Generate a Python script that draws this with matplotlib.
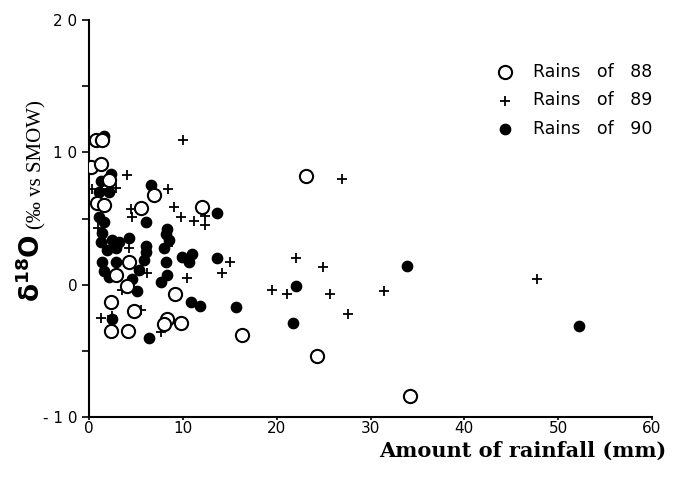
import matplotlib.pyplot as plt

# Rains of 88 (open circles): rainfall (mm), delta 18O
x88 = [0.7, 1.4, 0.2, 1.25, 2.1, 0.85, 1.6, 5.5, 6.9, 12.0, 23.1, 2.9, 4.3,
       4.1, 2.3, 4.8, 9.2, 8.3, 8.0, 9.8, 2.3, 4.2, 16.3, 24.3, 34.2]
y88 = [10.9, 10.9, 8.9, 9.1, 7.9, 6.2, 6.0, 5.8, 6.8, 5.9, 8.2, 0.75, 1.7,
       -0.1, -1.3, -2.0, -0.7, -2.6, -3.0, -2.9, -3.5, -3.5, -3.8, -5.4, -8.4]

# Rains of 89 (plus)
x89 = [10.0, 4.1, 8.4, 27.0, 2.9, 1.4, 9.1, 9.8, 11.2, 12.4, 12.4, 4.5, 4.6,
       4.3, 6.2, 10.4, 1.3, 3.5, 7.7, 8.4, 5.5, 2.5, 15.0, 14.2, 21.1, 19.5,
       22.1, 24.9, 25.7, 31.4, 27.6, 47.7, 0.3, 1.0]
y89 = [10.9, 8.3, 7.2, 8.0, 7.3, 7.2, 5.9, 5.1, 4.8, 4.5, 5.2, 5.7, 5.1,
       2.8, 0.9, 0.5, -2.5, -0.4, -3.6, 2.9, -1.9, -2.4, 1.7, 0.9, -0.7, -0.4,
       2.0, 1.3, -0.7, -0.5, -2.2, 0.4, 7.2, 4.3]

# Rains of 90 (filled dots)
x90 = [1.6, 2.3, 1.3, 1.1, 2.1, 6.6, 1.1, 1.6, 1.4, 1.3, 2.5, 2.9, 4.3, 6.1,
       6.1, 8.3, 8.5, 13.6, 8.0, 3.2, 6.1, 5.9, 5.3, 2.9, 1.4, 2.1, 4.6, 5.1,
       8.2, 8.3, 7.7, 9.9, 11.0, 10.7, 13.6, 10.9, 11.8, 15.7, 2.5, 6.4, 8.2,
       1.9, 21.7, 22.1, 33.9, 52.2, 1.6]
y90 = [11.2, 8.4, 7.8, 7.0, 7.0, 7.5, 5.1, 4.7, 3.9, 3.2, 3.4, 2.8, 3.5, 2.9,
       4.7, 4.2, 3.4, 5.4, 2.8, 3.2, 2.5, 1.9, 1.1, 1.7, 1.7, 0.6, 0.4, -0.5,
       1.7, 0.75, 0.2, 2.1, 2.3, 1.7, 2.0, -1.3, -1.6, -1.7, -2.6, -4.0, 3.8,
       2.6, -2.9, -0.1, 1.4, -3.1, 1.0]

labels = ['Rains   of   88', 'Rains   of   89', 'Rains   of   90']
yticks = [-10, 0, 10, 20]
ytick_labels = ['- 1 0', '0', '1 0', '2 0']
xticks = [0, 10, 20, 30, 40, 50, 60]

W, H = 681, 482


def main():
    fig = plt.figure(figsize=(W / 100, H / 100), dpi=100)
    ax = fig.add_axes([89 / W, 1 - 417 / H, (652 - 89) / W, (417 - 20) / H])

    ax.scatter(x88, y88, s=90, facecolors='white', edgecolors='black',
               linewidths=1.5, label=labels[0], zorder=3)
    ax.scatter(x89, y89, s=60, marker='+', color='black', linewidths=1.3,
               label=labels[1], zorder=2)
    ax.scatter(x90, y90, s=55, color='black', label=labels[2], zorder=2)

    ax.set_xlim(0, 60)
    ax.set_ylim(-10, 20)
    ax.set_xticks(xticks)
    ax.set_xticklabels([str(t) for t in xticks], fontfamily='DejaVu Sans',
                       fontsize=11)
    ax.set_yticks(yticks)
    ax.set_yticklabels(ytick_labels, fontfamily='DejaVu Sans', fontsize=11)
    ax.set_yticks([-5, 5, 15], minor=True)
    ax.tick_params(which='both', direction='out', length=5, width=1.2)
    ax.tick_params(axis='x', length=2, pad=1)
    ax.spines['top'].set_visible(False)
    ax.spines['right'].set_visible(False)
    ax.spines['left'].set_linewidth(1.5)
    ax.spines['bottom'].set_linewidth(1.5)

    # x label, bold serif, hanging past the right end of the axis
    fig.text(666 / W, 1 - 457 / H, 'Amount of rainfall (mm)',
             fontfamily='DejaVu Serif', fontweight='bold', fontsize=15,
             ha='right', va='baseline')

    # y label in two parts: big bold delta-18-O, then the units
    fig.text(40 / W, 1 - 302 / H, r'$\mathbf{\delta^{18}O}$',
             fontfamily='Liberation Serif', fontsize=19, rotation=90,
             rotation_mode='anchor', ha='left', va='baseline')
    fig.text(41 / W, 1 - 229 / H, '(‰ vs SMOW)',
             fontfamily='Liberation Serif', fontsize=15, rotation=90,
             rotation_mode='anchor', ha='left', va='baseline')

    ax.legend(loc='upper left', bbox_to_anchor=(488 / W, 1 - 63 / H),
              bbox_transform=fig.transFigure, frameon=False,
              prop={'family': 'DejaVu Sans', 'size': 12.5},
              handletextpad=0.6, labelspacing=0.6, scatterpoints=1,
              borderaxespad=0, borderpad=0)

    fig.savefig('out.png', dpi=100)


if __name__ == '__main__':
    main()
